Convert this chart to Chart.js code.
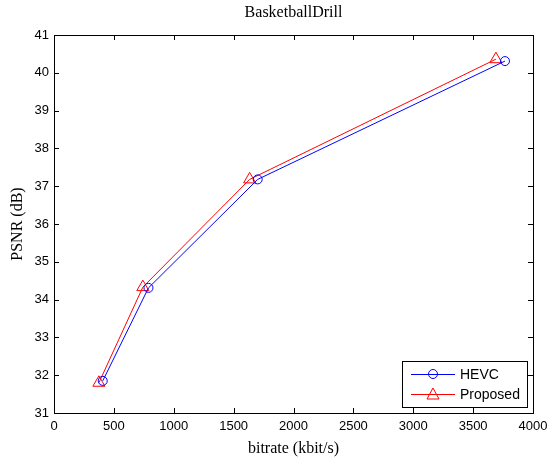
<!DOCTYPE html>
<html>
<head>
<meta charset="utf-8">
<script src="https://cdn.jsdelivr.net/npm/chart.js@4/dist/chart.umd.min.js"></script>
<style>
  html, body { margin: 0; padding: 0; background: #fff; }
  #wrap { width: 548px; height: 462px; }
</style>
</head>
<body>
<div id="wrap"><canvas id="rd-chart" width="548" height="462"></canvas></div>
<script>
// bitrate (kbit/s) and PSNR (dB)
const hevcRate = [407, 789, 1701, 3766];
const hevcPsnr = [31.85, 34.31, 37.18, 40.31];
const propRate = [375, 742, 1634, 3690];
const propPsnr = [31.80, 34.33, 37.18, 40.36];

const seriesNames = ['HEVC', 'Proposed'];
const chartTitle = 'BasketballDrill';
const xTicks = [0, 500, 1000, 1500, 2000, 2500, 3000, 3500, 4000];
const yTicks = [31, 32, 33, 34, 35, 36, 37, 38, 39, 40, 41];

const sansFont = '"Liberation Sans", Arial, sans-serif';
const serifFont = '"Liberation Serif", "Times New Roman", serif';

function toPoints(xs, ys)
{
    return xs.map((x, i) => ({ x: x, y: ys[i] }));
}

// matlab style box with inward ticks on all four sides, title over the axes
const boxPlugin = {
    id: 'matlabBox',
    afterDraw(chart) {
        const ctx = chart.ctx;
        const a = chart.chartArea;
        const xs = chart.scales.x;
        const ys = chart.scales.y;
        const len = 5;
        ctx.save();
        ctx.strokeStyle = '#000';
        ctx.lineWidth = 1;
        ctx.strokeRect(Math.round(a.left) + 0.5, Math.round(a.top) + 0.5,
            Math.round(a.right - a.left), Math.round(a.bottom - a.top));
        ctx.beginPath();
        xTicks.forEach(v => {
            const px = Math.round(xs.getPixelForValue(v)) + 0.5;
            ctx.moveTo(px, a.bottom); ctx.lineTo(px, a.bottom - len);
            ctx.moveTo(px, a.top); ctx.lineTo(px, a.top + len);
        });
        yTicks.forEach(v => {
            const py = Math.round(ys.getPixelForValue(v)) + 0.5;
            ctx.moveTo(a.left, py); ctx.lineTo(a.left + len, py);
            ctx.moveTo(a.right, py); ctx.lineTo(a.right - len, py);
        });
        ctx.stroke();

        ctx.fillStyle = '#000';
        ctx.font = '16px ' + serifFont;
        ctx.textAlign = 'center';
        ctx.textBaseline = 'middle';
        ctx.fillText(chartTitle, (a.left + a.right) / 2, 13);
        ctx.restore();
    }
};

// legend box in the lower right corner
const legendPlugin = {
    id: 'boxLegend',
    afterDraw(chart) {
        const ctx = chart.ctx;
        const a = chart.chartArea;
        const w = 125, h = 46;
        const left = a.right - 6 - w;
        const top = a.bottom - 6 - h;
        ctx.save();
        ctx.fillStyle = '#fff';
        ctx.fillRect(left, top, w, h);
        ctx.strokeStyle = '#000';
        ctx.lineWidth = 1;
        ctx.strokeRect(Math.round(left) + 0.5, Math.round(top) + 0.5, w, h);
        chart.data.datasets.forEach((ds, i) => {
            const y = top + 13 + i * 20;
            ctx.strokeStyle = ds.borderColor;
            ctx.beginPath();
            ctx.moveTo(left + 9, y + 0.5);
            ctx.lineTo(left + 53, y + 0.5);
            ctx.stroke();
            const mx = left + 31;
            ctx.beginPath();
            if (ds.pointStyle === 'triangle') {
                ctx.moveTo(mx, y - 6);
                ctx.lineTo(mx + 6, y + 5);
                ctx.lineTo(mx - 6, y + 5);
                ctx.closePath();
            } else {
                ctx.arc(mx, y, 4.5, 0, Math.PI * 2);
            }
            ctx.stroke();
            ctx.fillStyle = '#000';
            ctx.font = '14px ' + sansFont;
            ctx.textBaseline = 'middle';
            ctx.fillText(ds.label, left + 58, y + 1);
        });
        ctx.restore();
    }
};

new Chart(document.getElementById('rd-chart'), {
    type: 'scatter',
    data: {
        datasets: [{
            label: seriesNames[0],
            data: toPoints(hevcRate, hevcPsnr),
            showLine: true,
            borderColor: '#0000ff',
            backgroundColor: 'rgba(0,0,0,0)',
            borderWidth: 1,
            pointStyle: 'circle',
            pointRadius: 4.5,
            pointBorderWidth: 1,
            pointBorderColor: '#0000ff',
            pointBackgroundColor: 'rgba(0,0,0,0)'
        },
        {
            label: seriesNames[1],
            data: toPoints(propRate, propPsnr),
            showLine: true,
            borderColor: '#ff0000',
            backgroundColor: 'rgba(0,0,0,0)',
            borderWidth: 1,
            pointStyle: 'triangle',
            pointRadius: 7,
            pointBorderWidth: 1,
            pointBorderColor: '#ff0000',
            pointBackgroundColor: 'rgba(0,0,0,0)'
        }]
    },
    options: {
        responsive: false,
        animation: false,
        layout: { padding: { top: 35, right: 15, bottom: 0, left: 0 } },
        plugins: {
            legend: { display: false },
            tooltip: { enabled: false },
            title: { display: false }
        },
        scales: {
            x: {
                type: 'linear',
                min: 0,
                max: 4000,
                grid: { display: false, tickLength: 0 },
                border: { display: false },
                afterBuildTicks: (scale) => { scale.ticks = xTicks.map(v => ({ value: v })); },
                afterFit: (scale) => {
                    scale.height = 49;
                    scale.paddingLeft = 0;
                    scale.paddingRight = 0;
                },
                ticks: {
                    color: '#000',
                    padding: 6,
                    maxRotation: 0,
                    font: { family: sansFont, size: 13 },
                    callback: (v) => String(v)
                },
                title: {
                    display: true,
                    text: 'bitrate (kbit/s)',
                    color: '#000',
                    font: { family: serifFont, size: 16 },
                    padding: { top: 0, bottom: 4 }
                }
            },
            y: {
                type: 'linear',
                min: 31,
                max: 41,
                grid: { display: false, tickLength: 0 },
                border: { display: false },
                afterBuildTicks: (scale) => { scale.ticks = yTicks.map(v => ({ value: v })); },
                afterFit: (scale) => {
                    scale.width = 54;
                    scale.paddingTop = 0;
                    scale.paddingBottom = 0;
                },
                ticks: {
                    color: '#000',
                    padding: 5,
                    font: { family: sansFont, size: 13 },
                    callback: (v) => String(v)
                },
                title: {
                    display: true,
                    text: 'PSNR (dB)',
                    color: '#000',
                    font: { family: serifFont, size: 16 },
                    padding: { top: 8, bottom: 0 }
                }
            }
        }
    },
    plugins: [boxPlugin, legendPlugin]
});
</script>
</body>
</html>
